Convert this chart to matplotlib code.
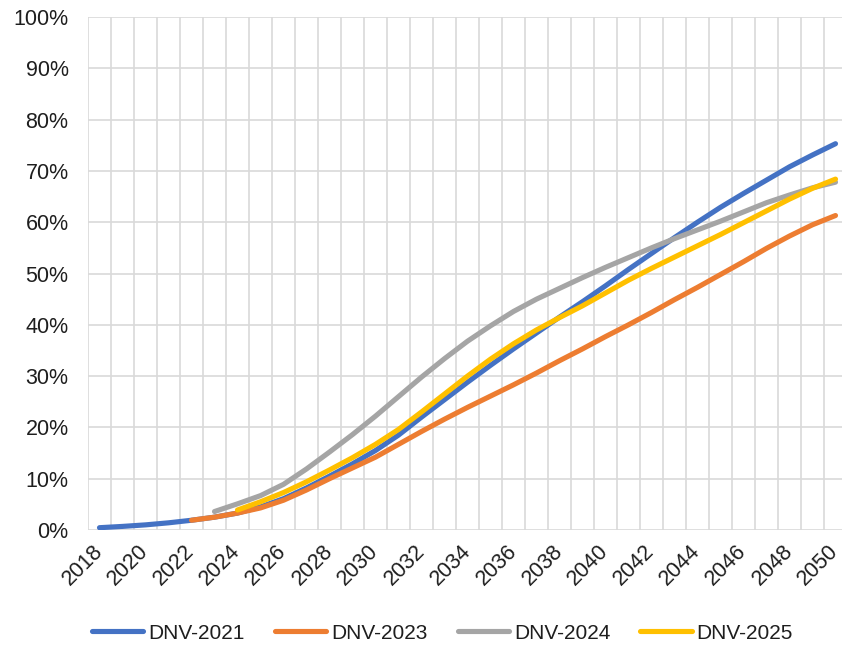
import numpy as np
import matplotlib
matplotlib.use("Agg")
from matplotlib import pyplot as plt

plt.rcParams['font.family'] = ['Liberation Sans', 'DejaVu Sans']

years_2021 = list(range(2018, 2051))
dnv_2021 = [0.45, 0.7, 1.0, 1.4, 1.9, 2.5, 3.3, 4.5, 6.1, 8.2, 10.5, 12.9, 15.5,
            18.5, 22.0, 25.4, 28.8, 32.1, 35.3, 38.4, 41.5, 44.5, 47.6, 50.8,
            53.9, 57.0, 60.0, 62.9, 65.6, 68.2, 70.8, 73.1, 75.3]

years_2023 = list(range(2022, 2051))
dnv_2023 = [1.9, 2.5, 3.3, 4.3, 5.8, 7.8, 10.0, 12.1, 14.2, 16.7, 19.2, 21.6,
            23.9, 26.1, 28.3, 30.6, 33.0, 35.3, 37.7, 40.0, 42.4, 44.9, 47.3,
            49.8, 52.3, 54.9, 57.3, 59.5, 61.3]

years_2024 = list(range(2023, 2051))
dnv_2024 = [3.6, 5.1, 6.7, 8.9, 11.9, 15.2, 18.6, 22.2, 26.0, 29.8, 33.4, 36.8,
            39.8, 42.6, 45.0, 47.1, 49.2, 51.2, 53.1, 55.0, 56.8, 58.5, 60.2,
            62.0, 63.8, 65.3, 66.7, 67.8]

years_2025 = list(range(2024, 2051))
dnv_2025 = [3.9, 5.5, 7.3, 9.4, 11.7, 14.1, 16.7, 19.6, 23.0, 26.5, 30.0, 33.3,
            36.3, 39.0, 41.4, 43.7, 46.2, 48.7, 51.0, 53.2, 55.4, 57.6, 59.9,
            62.2, 64.5, 66.6, 68.4]

series = [
    ("DNV-2021", years_2021, dnv_2021, "#4472C4"),
    ("DNV-2023", years_2023, dnv_2023, "#ED7D31"),
    ("DNV-2024", years_2024, dnv_2024, "#A5A5A5"),
    ("DNV-2025", years_2025, dnv_2025, "#FFC000"),
]

text_color = "#1e1e1e"
grid_color = "#d9d9d9"

fig = plt.figure(figsize=(8.42, 6.5), dpi=100)
ax = fig.add_axes([88 / 842, 120 / 650, 759 / 842, 513 / 650])

for name, xs, ys, col in series:
    ax.plot(xs, ys, color=col, lw=3.7, solid_capstyle='round',
            solid_joinstyle='round', label=name, zorder=3)

ax.set_xlim(2017.5, 2050.5)
ax.set_ylim(0, 100)

# gridlines sit on the category boundaries, labels on every other year
ax.set_xticks(np.arange(2017.5, 2051, 1), minor=True)
ax.set_xticks(np.arange(2018, 2051, 2))
ax.set_xticklabels([str(y) for y in range(2018, 2051, 2)], rotation=45,
                   ha='right', va='center', rotation_mode='anchor')
ax.set_yticks(np.arange(0, 101, 10))
ax.set_yticklabels([f"{v}%" for v in range(0, 101, 10)])

ax.grid(True, which='minor', axis='x', color=grid_color, lw=1.2)
ax.grid(True, which='major', axis='y', color=grid_color, lw=1.2)
ax.set_axisbelow(True)
ax.tick_params(axis='both', which='both', length=0, labelsize=15.5,
               labelcolor=text_color)
ax.tick_params(axis='y', pad=14)
ax.tick_params(axis='x', pad=13)
for s in ax.spines.values():
    s.set_visible(False)

fig.legend(loc='center', bbox_to_anchor=(0.5256, 0.026), ncol=4,
           frameon=False, fontsize=15, handlelength=2.45, handletextpad=0.25,
           columnspacing=1.45, labelcolor=text_color)

fig.savefig("out.png", dpi=100)
